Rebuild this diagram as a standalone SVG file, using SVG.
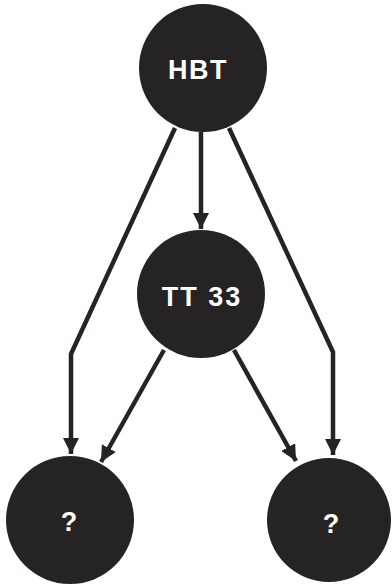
<svg xmlns="http://www.w3.org/2000/svg" width="392" height="587" viewBox="0 0 392 587">
<style>
.node circle{fill:#252324}
.node text{fill:#fff;font-family:"Liberation Sans",Arial,sans-serif;font-weight:bold;text-anchor:middle}
.edge{fill:none;stroke:#252324;stroke-width:4.5;stroke-linejoin:miter}
</style>
<defs>
<marker id="arr" markerUnits="userSpaceOnUse" markerWidth="16" markerHeight="16" viewBox="0 0 16 16" refX="16" refY="8" orient="auto">
<path d="M0,0 L16,8 L0,16 Z" fill="#252324"/>
</marker>
</defs>
<g id="connectors">
<path class="edge" d="M175,128 L71,354 L71,454" marker-end="url(#arr)"/>
<path class="edge" d="M201,132 L201,229" marker-end="url(#arr)"/>
<path class="edge" d="M229,128 L333,352 L333,455" marker-end="url(#arr)"/>
<path class="edge" d="M164,350 L101,462" marker-end="url(#arr)"/>
<path class="edge" d="M234,350 L296,461" marker-end="url(#arr)"/>
</g>
<g id="HBT" class="node">
<circle cx="203" cy="68" r="64"/>
<text x="198" y="79" font-size="27" letter-spacing="1.5">HBT</text>
</g>
<g id="TT33" class="node">
<circle cx="201" cy="294" r="64"/>
<text x="202" y="306" font-size="27" letter-spacing="2">TT 33</text>
</g>
<g id="Q1" class="node">
<circle cx="70" cy="520" r="64"/>
<text x="69" y="531" font-size="27">?</text>
</g>
<g id="Q2" class="node">
<circle cx="329" cy="520" r="62"/>
<text x="331" y="533" font-size="27">?</text>
</g>
</svg>
